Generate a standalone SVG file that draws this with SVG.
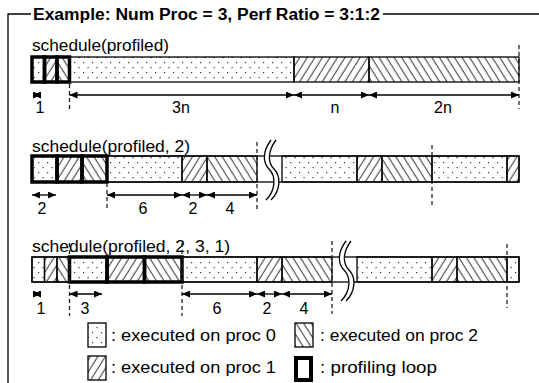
<svg xmlns="http://www.w3.org/2000/svg" width="539" height="383" viewBox="0 0 539 383">
<defs>
<pattern id="dots" patternUnits="userSpaceOnUse" width="9" height="10"><rect x="2" y="2" width="1.2" height="1.2" fill="#333"/><rect x="6.5" y="7" width="1.2" height="1.2" fill="#333"/></pattern>
<pattern id="fw" patternUnits="userSpaceOnUse" width="6.4" height="10" patternTransform="rotate(32)"><line x1="3" y1="-2" x2="3" y2="12" stroke="#111" stroke-width="0.9"/></pattern>
<pattern id="bk" patternUnits="userSpaceOnUse" width="6.4" height="10" patternTransform="rotate(-32)"><line x1="3" y1="-2" x2="3" y2="12" stroke="#111" stroke-width="0.9"/></pattern>
<marker id="ah" markerUnits="userSpaceOnUse" markerWidth="9" markerHeight="7" refX="8" refY="3.5" orient="auto-start-reverse"><path d="M0,0 L8,3.5 L0,7 z" fill="#000"/></marker>
</defs>
<style>
text{font-family:"Liberation Sans",Arial,sans-serif;font-size:17px;fill:#000}
.t{font-weight:bold;font-size:16px}
.n{font-size:16px}
.d{fill:url(#dots);stroke:#000;stroke-width:1.3}
.f{fill:url(#fw);stroke:#000;stroke-width:1.3}
.b{fill:url(#bk);stroke:#000;stroke-width:1.3}
.e{fill:#fff;stroke:#000;stroke-width:1.3}
.k{fill:none;stroke:#000;stroke-width:3.5}
.dash{stroke:#222;stroke-width:1.3;stroke-dasharray:4 3;fill:none}
.dim{stroke:#000;stroke-width:1.3;marker-start:url(#ah);marker-end:url(#ah)}
.brk{fill:#fff;stroke:none}
.bl{fill:none;stroke:#000;stroke-width:1.3}
.c{text-anchor:middle}
</style>
<rect width="539" height="383" fill="#fff"/>
<g id="frame">
<path d="M31,14 H8 V383 M383,14 H539" fill="none" stroke="#000" stroke-width="1.3"/>
<text class="t" x="33" y="19.5" textLength="347" lengthAdjust="spacingAndGlyphs">Example: Num Proc = 3, Perf Ratio = 3:1:2</text>
</g>
<g id="row1">
<text x="32" y="51" textLength="137" lengthAdjust="spacingAndGlyphs">schedule(profiled)</text>
<rect class="d" x="69.5" y="57" width="224.5" height="25"/>
<rect class="f" x="294" y="57" width="75" height="25"/>
<rect class="b" x="369" y="57" width="150" height="25"/>
<rect class="d" x="32" y="57" width="12.5" height="25"/>
<rect class="f" x="44.5" y="57" width="12.5" height="25"/>
<rect class="b" x="57" y="57" width="12.5" height="25"/>
<rect class="k" x="32" y="57" width="12.5" height="25"/>
<rect class="k" x="44.5" y="57" width="12.5" height="25"/>
<rect class="k" x="57" y="57" width="12.5" height="25"/>
</g>
<g id="row2">
<text x="32" y="152" textLength="158" lengthAdjust="spacingAndGlyphs">schedule(profiled, 2)</text>
<rect class="e" x="32" y="156" width="487" height="26"/>
<rect class="d" x="107" y="156" width="75" height="26"/>
<rect class="f" x="182" y="156" width="25" height="26"/>
<rect class="b" x="207" y="156" width="50" height="26"/>
<rect class="d" x="282" y="156" width="75" height="26"/>
<rect class="f" x="357" y="156" width="25" height="26"/>
<rect class="b" x="382" y="156" width="50" height="26"/>
<rect class="d" x="432" y="156" width="75" height="26"/>
<rect class="f" x="507" y="156" width="12" height="26"/>
<rect class="d" x="32" y="156" width="25" height="26"/>
<rect class="f" x="57" y="156" width="25" height="26"/>
<rect class="b" x="82" y="156" width="25" height="26"/>
<rect class="k" x="32" y="156" width="25" height="26"/>
<rect class="k" x="57" y="156" width="25" height="26"/>
<rect class="k" x="82" y="156" width="25" height="26"/>
<path class="brk" d="M271,140 C262,152 263,163 269,169 C276,176 276,190 266,200 L271,200 C281,190 281,176 274,169 C268,163 267,152 276,140 Z"/>
<path class="bl" d="M271,140 C262,152 263,163 269,169 C276,176 276,190 266,200 M276,140 C267,152 268,163 274,169 C281,176 281,190 271,200"/>
</g>
<g id="row3">
<text x="32" y="252" textLength="198" lengthAdjust="spacingAndGlyphs">schedule(profiled, 2, 3, 1)</text>
<rect class="e" x="32" y="257" width="487" height="25"/>
<rect class="d" x="32" y="257" width="12.5" height="25"/>
<rect class="f" x="44.5" y="257" width="12.5" height="25"/>
<rect class="b" x="57" y="257" width="12.5" height="25"/>
<rect class="d" x="182" y="257" width="75" height="25"/>
<rect class="f" x="257" y="257" width="25" height="25"/>
<rect class="b" x="282" y="257" width="50" height="25"/>
<rect class="d" x="357" y="257" width="75" height="25"/>
<rect class="f" x="432" y="257" width="25" height="25"/>
<rect class="b" x="457" y="257" width="50" height="25"/>
<rect class="d" x="507" y="257" width="12" height="25"/>
<rect class="d" x="69.5" y="257" width="37.5" height="25"/>
<rect class="f" x="107" y="257" width="37.5" height="25"/>
<rect class="b" x="144.5" y="257" width="37.5" height="25"/>
<rect class="k" x="69.5" y="257" width="37.5" height="25"/>
<rect class="k" x="107" y="257" width="37.5" height="25"/>
<rect class="k" x="144.5" y="257" width="37.5" height="25"/>
<path class="brk" d="M346,241 C337,253 338,264 344,270 C351,277 351,291 341,301 L346,301 C356,291 356,277 349,270 C343,264 342,253 351,241 Z"/>
<path class="bl" d="M346,241 C337,253 338,264 344,270 C351,277 351,291 341,301 M351,241 C342,253 343,264 349,270 C356,277 356,291 346,301"/>
</g>
<g id="connectors">
<line class="dash" x1="69.5" y1="84" x2="69.5" y2="109"/>
<line class="dash" x1="519" y1="45" x2="519" y2="109"/>
<line class="dash" x1="107" y1="183" x2="107" y2="209"/>
<line class="dash" x1="257" y1="142" x2="257" y2="209"/>
<line class="dash" x1="432" y1="145" x2="432" y2="208"/>
<line class="dash" x1="69.5" y1="243" x2="69.5" y2="316"/>
<line class="dash" x1="182" y1="243" x2="182" y2="316"/>
<line class="dash" x1="332" y1="241" x2="332" y2="314"/>
<line class="dash" x1="507" y1="244" x2="507" y2="308"/>
<line class="dim" x1="33" y1="95" x2="41" y2="95"/>
<line class="dim" x1="69.5" y1="95" x2="294" y2="95"/>
<line class="dim" x1="294" y1="95" x2="369" y2="95"/>
<line class="dim" x1="369" y1="95" x2="519" y2="95"/>
<line class="dim" x1="32" y1="195" x2="56" y2="195"/>
<line class="dim" x1="107" y1="195" x2="182" y2="195"/>
<line class="dim" x1="182" y1="195" x2="207" y2="195"/>
<line class="dim" x1="207" y1="195" x2="257" y2="195"/>
<line class="dim" x1="33" y1="294" x2="41" y2="294"/>
<line class="dim" x1="69.5" y1="294" x2="102" y2="294"/>
<line class="dim" x1="182" y1="294" x2="257" y2="294"/>
<line class="dim" x1="257" y1="294" x2="282" y2="294"/>
<line class="dim" x1="282" y1="294" x2="332" y2="294"/>
</g>
<g id="dimlabels">
<text class="c n" x="40" y="113">1</text>
<text class="c n" x="181" y="113">3n</text>
<text class="c n" x="335" y="113">n</text>
<text class="c n" x="443" y="113">2n</text>
<text class="c n" x="42" y="214">2</text>
<text class="c n" x="143" y="214">6</text>
<text class="c n" x="193" y="214">2</text>
<text class="c n" x="230" y="214">4</text>
<text class="c n" x="41" y="314">1</text>
<text class="c n" x="85" y="314">3</text>
<text class="c n" x="217" y="314">6</text>
<text class="c n" x="267" y="314">2</text>
<text class="c n" x="304" y="314">4</text>
</g>
<g id="legend">
<rect class="d" x="88" y="323" width="18" height="24"/>
<text x="111" y="341" textLength="165" lengthAdjust="spacingAndGlyphs">: executed on proc 0</text>
<rect class="f" x="88" y="356" width="18" height="24"/>
<text x="111" y="373" textLength="165" lengthAdjust="spacingAndGlyphs">: executed on proc 1</text>
<rect class="b" x="295" y="323" width="18" height="24"/>
<text x="320" y="341" textLength="158" lengthAdjust="spacingAndGlyphs">: executed on proc 2</text>
<rect x="296" y="358" width="15" height="22" fill="#fff" stroke="#000" stroke-width="4"/>
<text x="320" y="373" textLength="117" lengthAdjust="spacingAndGlyphs">: profiling loop</text>
</g>
</svg>
